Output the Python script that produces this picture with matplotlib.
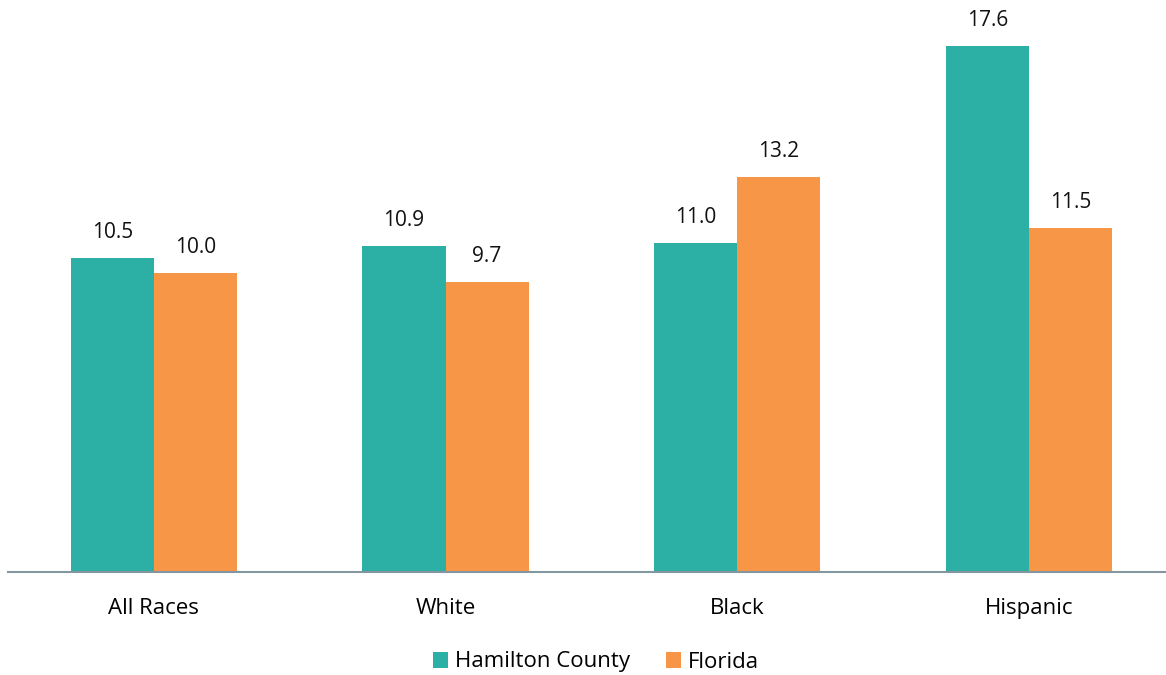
import matplotlib
matplotlib.use("Agg")
import matplotlib.pyplot as plt
import numpy as np

# data
categories = ["All Races", "White", "Black", "Hispanic"]
hamilton = [10.5, 10.9, 11.0, 17.6]
florida = [10.0, 9.7, 13.2, 11.5]
series_names = ["Hamilton County", "Florida"]

teal = "#2CAFA4"
orange = "#F79646"

plt.rcParams["font.family"] = ["Open Sans", "DejaVu Sans"]

fig = plt.figure(figsize=(11.66, 6.75), dpi=100)
ax = fig.add_axes([8 / 1166, 103 / 675, 1158 / 1166, 568 / 675])

x = np.arange(len(categories))
w = 0.285
b1 = ax.bar(x - w / 2, hamilton, w, color=teal, label=series_names[0])
b2 = ax.bar(x + w / 2, florida, w, color=orange, label=series_names[1])

for bars, vals in [(b1, hamilton), (b2, florida)]:
    for rect, v in zip(bars, vals):
        ax.annotate(f"{v:.1f}", (rect.get_x() + rect.get_width() / 2, v),
                    xytext=(0, 11), textcoords="offset points",
                    ha="center", va="bottom", fontsize=15, color="#111111")

ax.set_xlim(-0.5, 3.47)
ax.set_ylim(0, 19)
ax.set_xticks(x)
ax.set_xticklabels(categories, fontsize=16)
ax.tick_params(axis="x", length=0, pad=19)
ax.set_yticks([])
for s in ["top", "right", "left"]:
    ax.spines[s].set_visible(False)
ax.spines["bottom"].set_color("#8497A0")
ax.spines["bottom"].set_linewidth(1.5)

fig.legend(handles=[b1, b2], loc="center", bbox_to_anchor=(596 / 1166, 1 - 662 / 675),
           ncol=2, frameon=False, fontsize=16, handlelength=0.7, handleheight=0.7,
           handletextpad=0.3, columnspacing=1.6)

fig.savefig("out.png", dpi=100)
